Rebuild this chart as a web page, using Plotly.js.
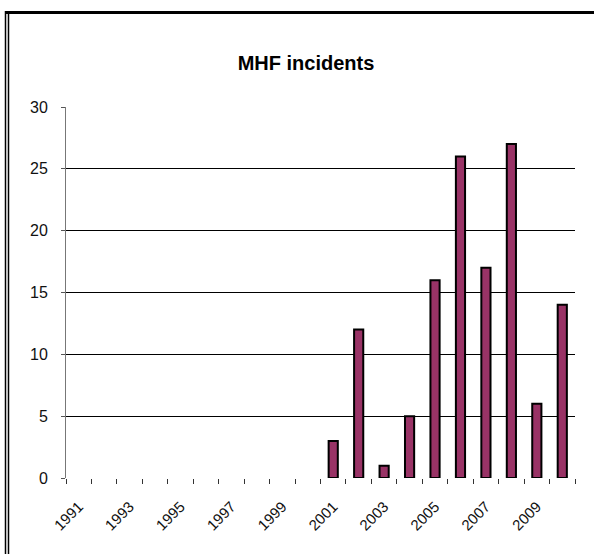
<!DOCTYPE html>
<html>
<head>
<meta charset="utf-8">
<script src="https://cdn.plot.ly/plotly-3.0.1.min.js"></script>
<style>html,body{margin:0;padding:0;background:#fff;}#chart{width:594px;height:554px;}</style>
</head>
<body>
<div id="chart"></div>
<script>
const years = ["1991","1992","1993","1994","1995","1996","1997","1998","1999","2000",
               "2001","2002","2003","2004","2005","2006","2007","2008","2009","2010"];
const incidents = [null,null,null,null,null,null,null,null,null,null,
                   3,12,1,5,16,26,17,27,6,14];
const yTicks = [0,5,10,15,20,25,30];
const yGrid = [5,10,15,20,25];
const xLabels = years.map((y,i) => i % 2 === 0 ? y : "");

const L = 66, R = 575, T = 107, B = 478, W = 594, H = 554;
const px = x => (x - L) / (R - L);
const py = y => (B - y) / (B - T);

const font = "Arial, 'Liberation Sans', sans-serif";

const trace = {
  type: "bar",
  x: years,
  y: incidents,
  marker: {color: "#993366", line: {color: "#000000", width: 2}},
  hoverinfo: "x+y"
};

const layout = {
  width: W, height: H,
  margin: {l: L, r: W - R, t: T, b: H - B, pad: 0},
  paper_bgcolor: "#ffffff",
  plot_bgcolor: "#ffffff",
  showlegend: false,
  bargap: 0.64,
  font: {family: font, color: "#111111"},
  title: {
    text: "<b>MHF incidents</b>",
    font: {family: font, size: 20, color: "#000000"},
    x: 306 / W, xref: "container", xanchor: "center",
    y: 1 - 63 / H, yref: "container", yanchor: "middle"
  },
  xaxis: {
    type: "category",
    tickmode: "array",
    tickvals: years,
    ticktext: xLabels,
    tickson: "boundaries",
    ticks: "outside",
    ticklen: 5,
    tickwidth: 1,
    tickcolor: "#333333",
    tickangle: -45,
    tickfont: {family: font, size: 15, color: "#111111"},
    ticklabelstandoff: 16,
    showline: false,
    showgrid: false,
    zeroline: false,
    range: [-0.5, 19.5],
    fixedrange: true
  },
  yaxis: {
    range: [0, 30],
    tickmode: "array",
    tickvals: yTicks,
    ticks: "outside",
    ticklen: 4,
    tickwidth: 1,
    tickcolor: "#555555",
    tickfont: {family: font, size: 16, color: "#111111"},
    ticklabelstandoff: 10,
    showline: true,
    linecolor: "#777777",
    linewidth: 1,
    showgrid: false,
    zeroline: false,
    minor: {
      tickmode: "array",
      tickvals: yGrid,
      ticks: "",
      showgrid: true,
      gridcolor: "#000000",
      gridwidth: 1
    },
    fixedrange: true
  },
  shapes: [
    {type: "line", xref: "paper", yref: "paper", x0: px(5), x1: px(594), y0: py(12.5), y1: py(12.5),
     line: {color: "#000000", width: 3}},
    {type: "line", xref: "paper", yref: "paper", x0: px(5.5), x1: px(5.5), y0: py(11), y1: py(554),
     line: {color: "#000000", width: 1.5}},
    {type: "line", xref: "paper", yref: "paper", x0: px(8.5), x1: px(8.5), y0: py(14), y1: py(554),
     line: {color: "#000000", width: 1.5}}
  ]
};

Plotly.newPlot("chart", [trace], layout, {displayModeBar: false, staticPlot: true});
</script>
</body>
</html>
